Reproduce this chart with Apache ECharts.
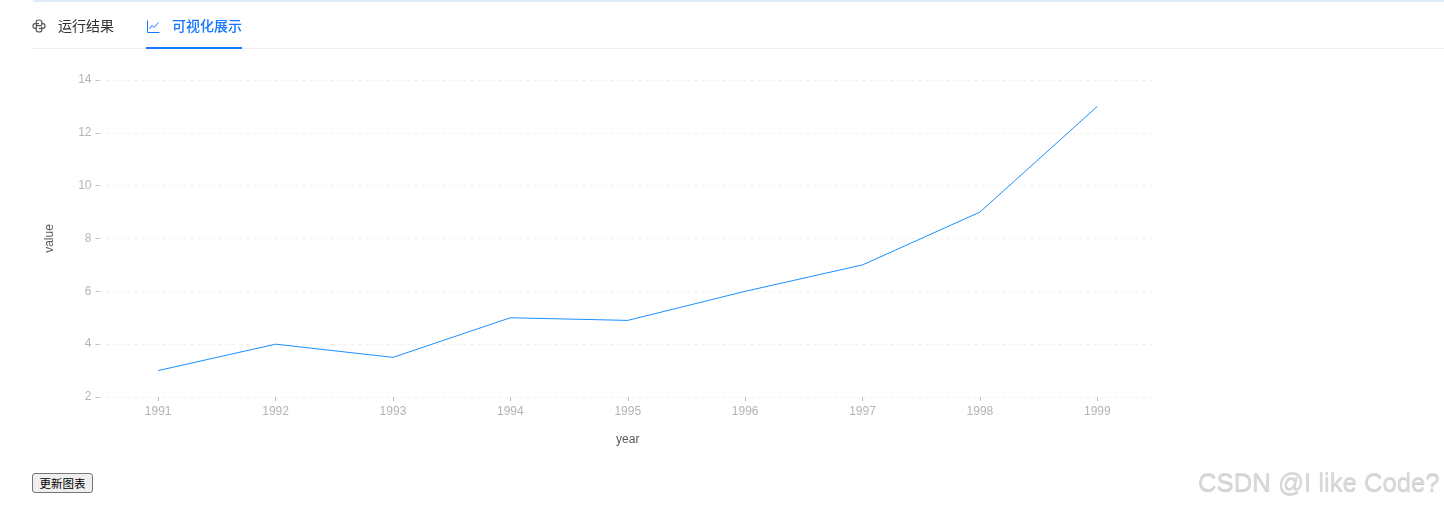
<!DOCTYPE html>
<html><head><meta charset="utf-8">
<script src="https://cdn.jsdelivr.net/npm/echarts@6/dist/echarts.min.js"></script>
<style>
html,body{margin:0;padding:0;background:#fff;width:1444px;height:508px;overflow:hidden;font-family:"Noto Sans CJK SC","Noto Sans",sans-serif}
#top{position:absolute;left:33px;right:0;top:0;height:2px;background:#e1eaf7}
#rule{position:absolute;left:32px;right:0;top:48px;height:1px;background:#f0f0f0}
.tab{position:absolute;top:15px;font-size:14px;line-height:20px;white-space:nowrap}
#t1{left:58px;color:#333}
#t2{left:172px;color:#1677ff;font-weight:500}
#bar{position:absolute;left:146px;top:47px;width:96px;height:2px;background:#1677ff}
svg{position:absolute}
#chart{position:absolute;left:0;top:0;width:1444px;height:508px}
#btn{position:absolute;left:32px;top:473px;width:61px;height:20px;padding:0;font-size:11.5px;line-height:18px;color:#000;background:#efefef;border:1px solid #767676;border-radius:3px;font-family:"Noto Sans CJK SC",sans-serif}
#wm{position:absolute;left:1198px;top:465px;font-family:"Liberation Sans",sans-serif;font-size:25.7px;line-height:34px;color:#d8d8d8;text-shadow:0 1px 1px #c8c8c8;white-space:nowrap}
</style></head><body>
<div id="chart"></div>
<div id="top"></div>
<svg style="left:32px;top:19px" width="14" height="14" viewBox="0 0 14 14" fill="none" stroke="#555" stroke-width="1.2">
<path d="M4.2 6.4V3C4.2 1.6 5.4 1 7 1S9.8 1.6 9.8 3V5.2C9.8 6 9.2 6.6 8.4 6.6H5.6C4.8 6.6 4.2 7.2 4.2 8V9.4H3C1.6 9.4 1 8.4 1 7S1.6 4.6 3 4.6H7"/>
<path d="M9.8 7.6V11C9.8 12.4 8.6 13 7 13S4.2 12.4 4.2 11V9.4M9.8 4.6H11C12.4 4.6 13 5.6 13 7S12.4 9.4 11 9.4H7"/>
</svg>
<span class="tab" id="t1">运行结果</span>
<svg style="left:147px;top:20px" width="13" height="13" viewBox="0 0 13 13" fill="none" stroke="#1677ff" stroke-width="1">
<path d="M.5 .5V12.5H12.5"/><path d="M2.5 9L5 5.5 7 7.5 11.5 2.5"/>
</svg>
<span class="tab" id="t2">可视化展示</span>
<div id="rule"></div><div id="bar"></div>
<button id="btn">更新图表</button>
<div id="wm">CSDN @I like Code?</div>
<script>
const years = ['1991','1992','1993','1994','1995','1996','1997','1998','1999'];
const values = [3,4,3.5,5,4.9,6,7,9,13];
const chart = echarts.init(document.getElementById('chart'),null,{renderer:'canvas'});
const font = '"Liberation Sans", Arial, sans-serif';
chart.setOption({
  animation:false,
  grid:{left:99.5,right:288,top:80,height:317,containLabel:false},
  xAxis:{type:'category',data:years,boundaryGap:true,name:'year',nameLocation:'middle',nameGap:37,
    nameTextStyle:{color:'#595959',fontSize:12,fontFamily:font},
    axisLine:{show:false},
    axisTick:{show:true,alignWithLabel:true,length:4,lineStyle:{color:'#bfbfbf'}},
    axisLabel:{color:'#b4b4b4',fontSize:12,margin:9,fontFamily:font},
    splitLine:{show:false}},
  yAxis:{type:'value',min:2,max:14,interval:2,name:'value',nameLocation:'middle',nameGap:44,nameRotate:90,
    nameTextStyle:{color:'#595959',fontSize:12,fontFamily:font},
    axisLine:{show:false},
    axisTick:{show:true,length:4,lineStyle:{color:'#bfbfbf'}},
    axisLabel:{color:'#b4b4b4',fontSize:12,margin:8,fontFamily:font},
    splitLine:{show:true,lineStyle:{color:'#f0f0f0',type:[3,4],width:1}}},
  series:[{type:'line',data:values,symbol:'none',smooth:false,lineStyle:{color:'#1890ff',width:1}}]
});
</script>
</body></html>
